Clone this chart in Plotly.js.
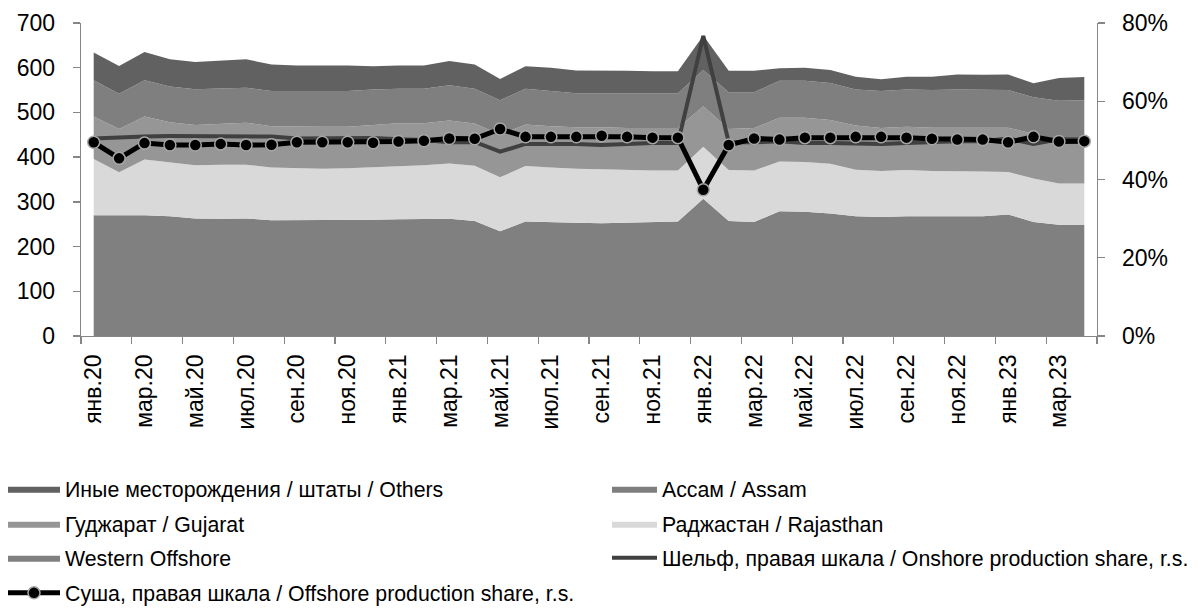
<!DOCTYPE html>
<html>
<head>
<meta charset="utf-8">
<script src="https://cdn.plot.ly/plotly-3.0.1.min.js"></script>
<style>html,body{margin:0;padding:0;background:#fff;}#chart{width:1202px;height:610px;}</style>
</head>
<body>
<div id="chart"></div>
<script>
const months = ["янв.20","фев.20","мар.20","апр.20","май.20","июн.20","июл.20","авг.20","сен.20","окт.20","ноя.20","дек.20",
  "янв.21","фев.21","мар.21","апр.21","май.21","июн.21","июл.21","авг.21","сен.21","окт.21","ноя.21","дек.21",
  "янв.22","фев.22","мар.22","апр.22","май.22","июн.22","июл.22","авг.22","сен.22","окт.22","ноя.22","дек.22",
  "янв.23","фев.23","мар.23","апр.23"];

const westernOffshore = [270,270,270,268,263,262,263,259,259,259,259,260,261,262,262,257,234,256,254,253,252,253,254,256,307,257,255,279,278,274,268,266,268,268,268,268,272,255,249,248];
const rajasthan = [126,96,125,120,119,121,120,118,116,115,116,117,119,120,124,124,121,124,123,121,121,118,116,114,116,114,115,111,111,111,104,103,103,101,101,100,95,97,92,93];
const gujarat = [95,97,96,90,90,92,94,92,93,94,93,95,96,94,96,94,95,93,92,93,94,94,95,95,91,92,95,98,99,98,99,96,97,97,97,98,99,100,97,97];
const assam = [81,79,81,80,80,78,78,79,80,79,80,79,77,77,79,78,77,80,79,76,76,78,77,78,81,82,80,83,83,83,80,83,83,84,85,85,84,82,88,89];
const others = [62,62,63,61,61,63,64,59,57,58,57,52,52,52,54,54,48,50,52,51,51,50,50,49,77,48,48,28,29,29,29,26,29,30,34,33,35,31,51,52];

const onshoreShare = [50.5,50.8,51.0,51.1,51.1,51.0,51.1,51.0,50.5,50.5,50.5,50.6,50.3,50.1,49.5,49.6,47.1,49.1,49.1,49.1,48.8,49.1,49.3,49.3,76.7,49.5,49.5,49.8,49.3,49.3,49.1,49.1,49.3,49.6,49.8,49.8,50.5,49.1,50.3,50.2];
const offshoreShare = [49.5,45.4,49.3,48.8,48.8,49.1,48.8,48.9,49.5,49.5,49.5,49.4,49.7,49.9,50.5,50.4,52.9,50.9,50.9,50.9,51.2,50.9,50.7,50.7,37.4,48.8,50.5,50.2,50.7,50.7,50.9,50.9,50.7,50.4,50.2,50.2,49.5,50.9,49.7,49.8];

const labelNames = {
  others: "Иные месторождения / штаты / Others",
  assam: "Ассам / Assam",
  gujarat: "Гуджарат / Gujarat",
  rajasthan: "Раджастан / Rajasthan",
  western: "Western Offshore",
  onshore: "Шельф, правая шкала / Onshore production share, r.s.",
  offshore: "Суша, правая шкала / Offshore production share, r.s."
};

const tickLabels = months.filter((m, i) => i % 2 === 0);
const boundaryTicks = months.filter((m, i) => i % 2 === 0).map((m, k) => k * 2 - 0.5).concat([months.length - 0.5]);

function area(y, name, color, leg) {
  return {x: months, y: y, name: name, type: 'scatter', mode: 'lines', stackgroup: 'prod',
    line: {width: 0, color: color}, fillcolor: color, legend: leg, hoverinfo: 'skip'};
}

const traces = [
  area(westernOffshore, labelNames.western, '#808080', 'legend5'),
  area(rajasthan, labelNames.rajasthan, '#d9d9d9', 'legend4'),
  area(gujarat, labelNames.gujarat, '#969696', 'legend3'),
  area(assam, labelNames.assam, '#7f7f7f', 'legend2'),
  area(others, labelNames.others, '#616161', 'legend'),
  {x: months, y: onshoreShare, name: labelNames.onshore, type: 'scatter', mode: 'lines', yaxis: 'y2',
   line: {color: '#404040', width: 4}, legend: 'legend6', hoverinfo: 'skip'},
  {x: months, y: offshoreShare, name: labelNames.offshore, type: 'scatter', mode: 'lines+markers', yaxis: 'y2',
   line: {color: '#000000', width: 5}, marker: {color: '#000000', size: 12, line: {color: '#a6a6a6', width: 1.5}},
   legend: 'legend7', hoverinfo: 'skip'},
  {x: [0], y: [0], xaxis: 'x2', yaxis: 'y', type: 'scatter', mode: 'markers', marker: {opacity: 0, size: 1},
   showlegend: false, hoverinfo: 'skip'}
];

const fontFam = '"Liberation Sans", Arial, sans-serif';
const axisGray = '#868686';
const plotL = 81, plotW = 1016, plotB = 336, plotH = 313;
function px2x(px) { return (px - plotL) / plotW; }
function px2y(py) { return (plotB - py) / plotH; }

function legendAt(pxX, pyC, iw) {
  return {orientation: 'h', x: px2x(pxX), xanchor: 'left', y: px2y(pyC), yanchor: 'middle',
    itemwidth: iw, bgcolor: 'rgba(0,0,0,0)',
    font: {family: fontFam, size: 21.3, color: '#000'}, itemclick: false};
}

const layout = {
  width: 1202, height: 610,
  margin: {l: plotL, r: 105, t: 23, b: 274, autoexpand: false},
  paper_bgcolor: '#fff', plot_bgcolor: '#fff',
  font: {family: fontFam, color: '#000'},
  xaxis: {type: 'category', range: [-0.5, months.length - 0.5], tickmode: 'array', tickvals: tickLabels, ticktext: tickLabels,
    tickangle: -90, ticks: '', showline: true, linecolor: axisGray, linewidth: 1.3, showgrid: false, zeroline: false,
    tickfont: {family: fontFam, size: 23, color: '#000'}, ticklabelstandoff: 8, fixedrange: true},
  xaxis2: {type: 'linear', overlaying: 'x', anchor: 'y', side: 'bottom', range: [-0.5, months.length - 0.5],
    tickmode: 'array', tickvals: boundaryTicks, ticks: 'outside', ticklen: 7, tickcolor: axisGray, tickwidth: 1.3,
    showticklabels: false, showline: false, showgrid: false, zeroline: false, fixedrange: true},
  yaxis: {range: [0, 700], dtick: 100, ticks: 'outside', ticklen: 7, tickcolor: axisGray, tickwidth: 1.3,
    showline: true, linecolor: axisGray, linewidth: 1.3, showgrid: false, zeroline: false,
    tickfont: {family: fontFam, size: 23, color: '#000'}, ticklabelstandoff: 13, fixedrange: true},
  yaxis2: {range: [0, 80], dtick: 20, ticksuffix: '%', overlaying: 'y', side: 'right', anchor: 'x',
    ticks: 'outside', ticklen: 7, tickcolor: axisGray, tickwidth: 1.3,
    showline: true, linecolor: axisGray, linewidth: 1.3, showgrid: false, zeroline: false,
    tickfont: {family: fontFam, size: 23, color: '#000'}, ticklabelstandoff: 12, fixedrange: true},
  legend: legendAt(3, 489, 52),
  legend2: legendAt(607, 489, 45),
  legend3: legendAt(3, 524, 52),
  legend4: legendAt(607, 524, 45),
  legend5: legendAt(3, 558, 52),
  legend6: legendAt(607, 558, 45),
  legend7: legendAt(3, 593, 52),
  showlegend: true
};

Plotly.newPlot('chart', traces, layout, {displayModeBar: false, staticPlot: true});
</script>
</body>
</html>
